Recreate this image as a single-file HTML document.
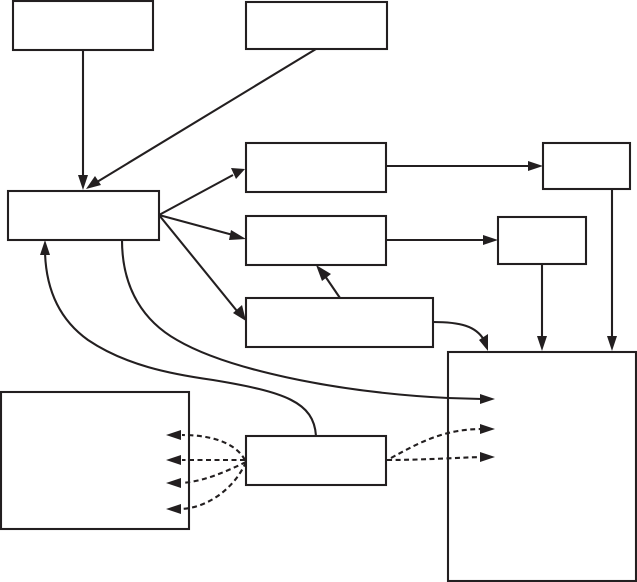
<!DOCTYPE html>
<html><head><meta charset="utf-8"><style>html,body{margin:0;padding:0;background:#fff}svg{display:block}</style></head>
<body>
<svg width="637" height="582" viewBox="0 0 637 582" xmlns="http://www.w3.org/2000/svg">
<g fill="none" stroke="#231f20" stroke-width="2.1">
<rect x="13" y="1" width="140" height="49"/>
<rect x="246" y="2" width="141" height="47"/>
<rect x="8" y="191" width="151" height="49"/>
<rect x="246" y="143" width="140" height="49"/>
<rect x="246" y="216" width="140" height="49"/>
<rect x="246" y="298" width="187" height="49"/>
<rect x="543" y="143" width="87" height="46"/>
<rect x="498" y="217" width="88" height="47"/>
<rect x="448" y="352" width="188" height="229"/>
<rect x="1" y="392" width="188" height="137"/>
<rect x="246" y="436" width="140" height="49"/>
<path d="M83 50V176"/>
<path d="M316 49L97 182"/>
<path d="M159 215L233 175"/>
<path d="M159 215L233 235"/>
<path d="M159 215L237 311"/>
<path d="M387 166H529"/>
<path d="M387 240H484"/>
<path d="M340 298L325 276"/>
<path d="M542 264V338"/>
<path d="M612 189V338"/>
<path d="M433 322C460 322 476 326 484 340"/>
<path d="M122 240C122 290 145 322 177 340C225 368 330 392 448 398L482 399"/>
<path d="M316 436C314 402 285 392 213 380C170 374 125 365 88 340C60 320 46 290 45 252"/>
</g>
<g fill="none" stroke="#231f20" stroke-width="2.1" stroke-dasharray="5 3.5">
<path d="M245 460C235 442 210 435 182 435"/>
<path d="M245 460H182"/>
<path d="M246 462C225 472 205 481 182 483"/>
<path d="M246 462C235 487 210 507 182 509"/>
<path d="M391 458C420 442 445 429 482 429"/>
<path d="M387 460C420 460 450 458 482 457"/>
</g>
<g fill="#231f20">
<path d="M83 190L78 175H88Z"/>
<path d="M86 189L95 176L101 185Z"/>
<path d="M245 169L231 168L236 179Z"/>
<path d="M246 239L231 230L229 240Z"/>
<path d="M246 321L242 305L233 313Z"/>
<path d="M543 166L528 161V171Z"/>
<path d="M498 240L483 235V245Z"/>
<path d="M316 265L331 274L322 281Z"/>
<path d="M542 351L537 336H547Z"/>
<path d="M612 351L607 336H617Z"/>
<path d="M488 351L479 340L488 334Z"/>
<path d="M495 399L480 394V404Z"/>
<path d="M495 429L480 424V434Z"/>
<path d="M495 457L480 452V462Z"/>
<path d="M45 240L40 255H50Z"/>
<path d="M166 435L181 430V440Z"/>
<path d="M166 460L181 455V465Z"/>
<path d="M166 483L181 478V488Z"/>
<path d="M166 509L181 504V514Z"/>
</g>
</svg>
</body></html>
